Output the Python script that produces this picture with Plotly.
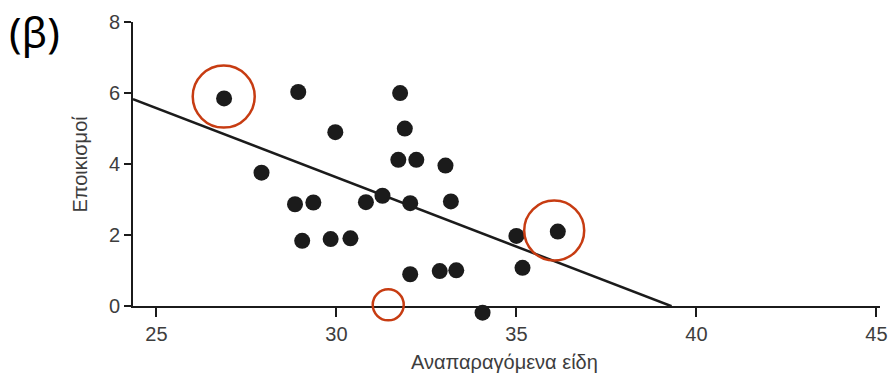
import plotly.graph_objects as go

# Reproducing species (x) vs. colonisation events (y)
species = [26.88, 28.94, 31.77, 29.97, 31.90, 31.72, 32.22, 33.03, 27.92,
           28.85, 29.36, 30.82, 31.28, 32.05, 33.18, 29.05, 29.84, 30.39,
           32.05, 32.87, 33.33, 34.06, 35.00, 36.15, 35.17]
colonisations = [5.85, 6.03, 6.00, 4.90, 5.00, 4.12, 4.12, 3.96, 3.76,
                 2.87, 2.92, 2.93, 3.11, 2.90, 2.95, 1.84, 1.89, 1.91,
                 0.90, 0.99, 1.01, -0.18, 1.98, 2.10, 1.08]

# Fitted trend line end points
trend_x = [24.35, 39.31]
trend_y = [5.83, 0.0]

# Highlight rings: centre x, centre y, radius (px)
ring_x = [26.87, 36.05, 31.44]
ring_y = [5.90, 2.13, 0.04]
ring_r = [31, 30, 15.5]

x_ticks = [25, 30, 35, 40, 45]
y_ticks = [0, 2, 4, 6, 8]

x_range = [24.35, 45.1]
y_range = [0, 8]        # visible axis span
y_pad = 0.5             # room below zero for marks sitting under the axis

INK = "#1b1b1b"
LABEL = "#3d3d3d"
RED = "#c73c12"
FONT = "Liberation Sans, Arial, sans-serif"

# layout geometry (px)
W, H = 895, 377
top_px, zero_px = 22, 306
unit_px = (zero_px - top_px) / (y_range[1] - y_range[0])
bottom_px = zero_px + y_pad * unit_px
plot_h = bottom_px - top_px
axis_domain_bottom = (bottom_px - zero_px) / plot_h


def paper_y(py):
    return (bottom_px - py) / plot_h


fig = go.Figure()

# trend line on the visible axes
fig.add_trace(go.Scatter(
    x=trend_x, y=trend_y, mode="lines", xaxis="x", yaxis="y",
    line=dict(color=INK, width=2.5),
    hoverinfo="skip", showlegend=False,
))

# points on a hidden twin axis that reaches slightly below zero
fig.add_trace(go.Scatter(
    x=species, y=colonisations, mode="markers", xaxis="x", yaxis="y2",
    marker=dict(size=16, color=INK, line=dict(width=0)),
    showlegend=False, cliponaxis=False,
))

for cx, cy, r in zip(ring_x, ring_y, ring_r):
    fig.add_shape(
        type="circle", xref="x", yref="y2",
        xsizemode="pixel", ysizemode="pixel",
        xanchor=cx, yanchor=cy,
        x0=-r, x1=r, y0=-r, y1=r,
        line=dict(color=RED, width=2.5),
        fillcolor="rgba(0,0,0,0)", layer="above",
    )

axis_common = dict(
    showgrid=False, zeroline=False, showline=True,
    linecolor=INK, linewidth=2, ticks="outside",
    tickcolor=INK, tickwidth=1.5,
    tickfont=dict(family=FONT, size=20, color=LABEL),
)

fig.update_layout(
    xaxis=dict(range=x_range, tickvals=x_ticks, ticklen=9, anchor="y", **axis_common),
    yaxis=dict(range=y_range, tickvals=y_ticks, ticklen=7,
               domain=[axis_domain_bottom, 1], anchor="x", **axis_common),
    yaxis2=dict(range=[y_range[0] - y_pad, y_range[1]], domain=[0, 1],
                visible=False, anchor="x"),
)

fig.add_annotation(
    text="Αναπαραγόμενα είδη", xref="paper", yref="paper",
    x=0.497, y=paper_y(362), xanchor="center", yanchor="middle",
    showarrow=False, font=dict(family=FONT, size=20, color=LABEL),
)
fig.add_annotation(
    text="Εποικισμοί", xref="paper", yref="paper",
    x=-0.0703, y=paper_y(164), xanchor="center", yanchor="middle", textangle=-90,
    showarrow=False, font=dict(family=FONT, size=20, color=LABEL),
)
fig.add_annotation(
    text="(β)", xref="paper", yref="paper",
    x=-0.132, y=paper_y(31), xanchor="center", yanchor="middle",
    showarrow=False, font=dict(family="Noto Sans, sans-serif", size=42, color="#000000"),
)

fig.update_layout(
    width=W, height=H,
    margin=dict(l=133, r=8, t=top_px, b=H - bottom_px),
    paper_bgcolor="white", plot_bgcolor="rgba(0,0,0,0)",
)

fig.write_html("out.html")
